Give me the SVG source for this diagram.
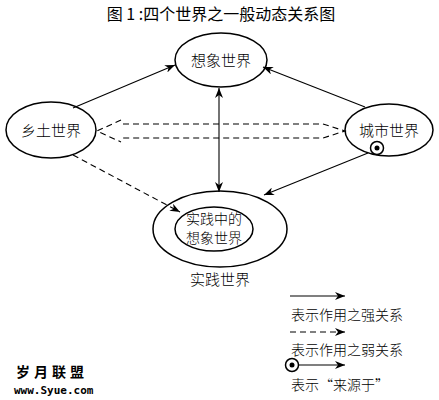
<svg xmlns="http://www.w3.org/2000/svg" width="439" height="400" viewBox="0 0 439 400">
<style>
text{font-family:"Noto Sans CJK SC","Liberation Serif",serif;fill:#000}
.n{font-size:15px;text-anchor:middle;font-weight:300}
.ni{font-size:14px}
.lg{font-size:14px;font-weight:300}
.e{fill:#fff;stroke:#000;stroke-width:1.5}
.c{fill:none;stroke:#000;stroke-width:1.1}
.d{fill:none;stroke:#000;stroke-width:1.1;stroke-dasharray:6 4}
.wm{font-weight:bold;fill:#000;stroke:#fff;stroke-width:0.6;paint-order:stroke}
</style>
<defs>
<marker id="ah" viewBox="0 0 10 8" refX="10" refY="4" markerWidth="10" markerHeight="8" markerUnits="userSpaceOnUse" orient="auto-start-reverse">
<path d="M0,0 L10,4 L0,8 L3,4 Z" fill="#000"/>
</marker>
</defs>
<rect width="439" height="400" fill="#fff"/>
<text x="221" y="20" font-size="16" text-anchor="middle">图 1 :四个世界之一般动态关系图</text>
<g id="n-xiangxiang">
<ellipse class="e" cx="221" cy="60" rx="46" ry="27"/>
<text class="n" x="221" y="66">想象世界</text>
</g>
<g id="n-xiangtu">
<ellipse class="e" cx="51" cy="130" rx="45" ry="28"/>
<text class="n" x="51" y="136">乡土世界</text>
</g>
<g id="n-chengshi">
<ellipse class="e" cx="389" cy="130" rx="44" ry="26"/>
<text class="n" x="389" y="136">城市世界</text>
</g>
<g id="n-shijian">
<ellipse class="e" cx="220" cy="229" rx="67" ry="38"/>
<ellipse class="e" cx="214" cy="229" rx="39" ry="22"/>
<text class="n ni" x="214" y="224">实践中的</text>
<text class="n ni" x="214" y="243">想象世界</text>
<text class="n" x="220" y="285">实践世界</text>
</g>
<g id="connectors">
<line class="c" x1="73" y1="108" x2="175" y2="65" marker-end="url(#ah)"/>
<line class="c" x1="365" y1="107" x2="263" y2="67" marker-end="url(#ah)"/>
<line class="c" x1="219" y1="88" x2="219" y2="192" marker-start="url(#ah)" marker-end="url(#ah)"/>
<line class="c" x1="368" y1="153" x2="264" y2="195" marker-end="url(#ah)"/>
<line class="d" x1="73" y1="155" x2="180" y2="212" marker-end="url(#ah)"/>
<path class="d" d="M121,120 L97,131 L121,142 M123,124 L323,124 L345,131 L323,138 L120,138" stroke-dasharray="7 4"/>
<circle cx="377" cy="148" r="6.5" fill="#fff" stroke="#000" stroke-width="1.5"/>
<circle cx="377" cy="148" r="2.5" fill="#000"/>
</g>
<g id="legend">
<line class="c" x1="290" y1="296" x2="345" y2="296" marker-end="url(#ah)"/>
<text class="lg" x="291" y="320">表示作用之强关系</text>
<line class="d" x1="290" y1="332" x2="345" y2="332" stroke-dasharray="5 4" marker-end="url(#ah)"/>
<text class="lg" x="291" y="355">表示作用之弱关系</text>
<line class="c" x1="298" y1="365" x2="345" y2="365" marker-end="url(#ah)"/>
<circle cx="292" cy="365" r="6.5" fill="#fff" stroke="#000" stroke-width="1.5"/>
<circle cx="292" cy="365" r="2.5" fill="#000"/>
<text class="lg" x="291" y="390">表示“来源于”</text>
</g>
<g id="watermark">
<text class="wm" x="16" y="377" font-size="14" letter-spacing="4">岁月联盟</text>
<text class="wm" x="14" y="394" font-size="11" style="font-family:'DejaVu Sans Mono',monospace">www.Syue.com</text>
</g>
</svg>
